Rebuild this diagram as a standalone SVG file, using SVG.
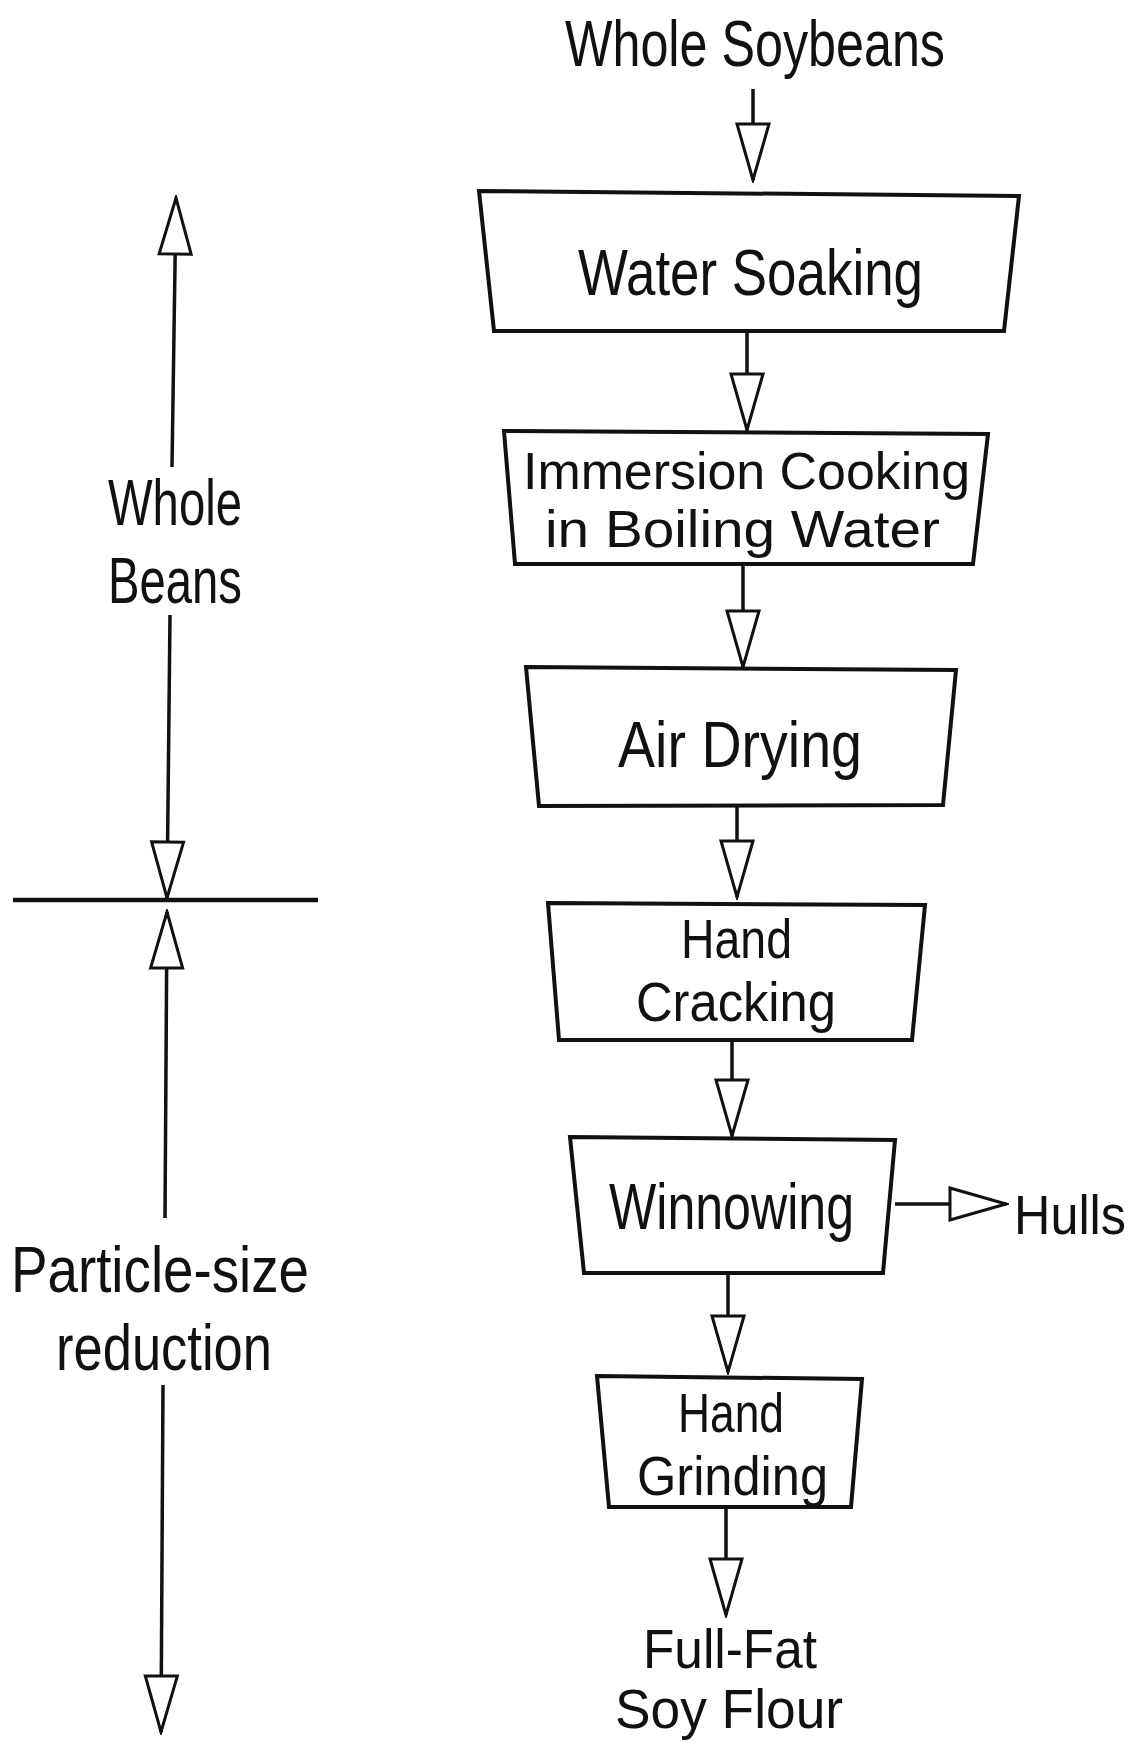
<svg xmlns="http://www.w3.org/2000/svg" width="1141" height="1744" viewBox="0 0 1141 1744">
<defs>
<style>
.t{font-family:"Liberation Sans","DejaVu Sans",sans-serif;font-size:64px;fill:#111;}
.s{font-size:52px;}
.m{font-size:56px;}
.box{fill:#fff;stroke:#111;stroke-width:4;stroke-linejoin:miter;}
.ln{stroke:#111;stroke-width:3.5;fill:none;}
.ar{stroke:#111;stroke-width:3.5;fill:none;marker-end:url(#tri);}
</style>
<marker id="tri" markerUnits="userSpaceOnUse" viewBox="-3 -3 62 38" markerWidth="62" markerHeight="38" refX="56" refY="16" orient="auto">
<path d="M0,0 L56,16 L0,32 Z" fill="#fff" stroke="#111" stroke-width="3"/>
</marker>
</defs>
<rect width="1141" height="1744" fill="#fff"/>
<g id="connectors">
<line class="ar" x1="753" y1="89" x2="753" y2="180"/>
<line class="ar" x1="747" y1="331" x2="747" y2="430"/>
<line class="ar" x1="743" y1="564" x2="743" y2="667"/>
<line class="ar" x1="737" y1="806" x2="737" y2="897"/>
<line class="ar" x1="732" y1="1042" x2="732" y2="1136"/>
<line class="ar" x1="895" y1="1204" x2="1006" y2="1204"/>
<line class="ar" x1="728" y1="1273" x2="728" y2="1372"/>
<line class="ar" x1="726" y1="1509" x2="726" y2="1615"/>
<line class="ar" x1="172" y1="467" x2="176" y2="198"/>
<line class="ar" x1="170" y1="615" x2="167" y2="898"/>
<line class="ln" x1="13" y1="900" x2="318" y2="900" style="stroke-width:4.5"/>
<line class="ar" x1="165" y1="1218" x2="167" y2="912"/>
<line class="ar" x1="163" y1="1385" x2="161" y2="1732"/>
</g>
<g id="whole-soybeans"><text class="t" x="565" y="66" textLength="380" lengthAdjust="spacingAndGlyphs">Whole Soybeans</text></g>
<g id="water-soaking">
<polygon class="box" points="479,191 1019,196 1004,331 494,331"/>
<text class="t" x="578" y="295" textLength="345" lengthAdjust="spacingAndGlyphs">Water Soaking</text>
</g>
<g id="immersion-cooking">
<polygon class="box" points="504,431 988,434 973,564 515,564"/>
<text class="t s" x="523" y="489" textLength="447" lengthAdjust="spacingAndGlyphs">Immersion Cooking</text>
<text class="t s" x="545" y="547" textLength="395" lengthAdjust="spacingAndGlyphs">in Boiling Water</text>
</g>
<g id="air-drying">
<polygon class="box" points="526,667 956,670 943,805 539,806"/>
<text class="t" x="618" y="767" textLength="244" lengthAdjust="spacingAndGlyphs">Air Drying</text>
</g>
<g id="hand-cracking">
<polygon class="box" points="548,903 925,905 912,1040 559,1040"/>
<text class="t m" x="681" y="958" textLength="111" lengthAdjust="spacingAndGlyphs">Hand</text>
<text class="t m" x="636" y="1021" textLength="200" lengthAdjust="spacingAndGlyphs">Cracking</text>
</g>
<g id="winnowing">
<polygon class="box" points="570,1137 895,1140 883,1273 584,1273"/>
<text class="t" x="609" y="1229" textLength="245" lengthAdjust="spacingAndGlyphs">Winnowing</text>
</g>
<g id="hulls"><text class="t m" x="1014" y="1234" textLength="112" lengthAdjust="spacingAndGlyphs">Hulls</text></g>
<g id="hand-grinding">
<polygon class="box" points="597,1376 862,1379 851,1507 609,1507"/>
<text class="t m" x="678" y="1432" textLength="106" lengthAdjust="spacingAndGlyphs">Hand</text>
<text class="t m" x="637" y="1495" textLength="191" lengthAdjust="spacingAndGlyphs">Grinding</text>
</g>
<g id="full-fat-soy-flour">
<text class="t m" x="643" y="1668" textLength="174" lengthAdjust="spacingAndGlyphs">Full-Fat</text>
<text class="t m" x="615" y="1728" textLength="228" lengthAdjust="spacingAndGlyphs">Soy Flour</text>
</g>
<g id="whole-beans">
<text class="t" x="108" y="525" textLength="134" lengthAdjust="spacingAndGlyphs">Whole</text>
<text class="t" x="108" y="603" textLength="134" lengthAdjust="spacingAndGlyphs">Beans</text>
</g>
<g id="particle-size-reduction">
<text class="t" x="11" y="1292" textLength="298" lengthAdjust="spacingAndGlyphs">Particle-size</text>
<text class="t" x="56" y="1370" textLength="216" lengthAdjust="spacingAndGlyphs">reduction</text>
</g>
</svg>
